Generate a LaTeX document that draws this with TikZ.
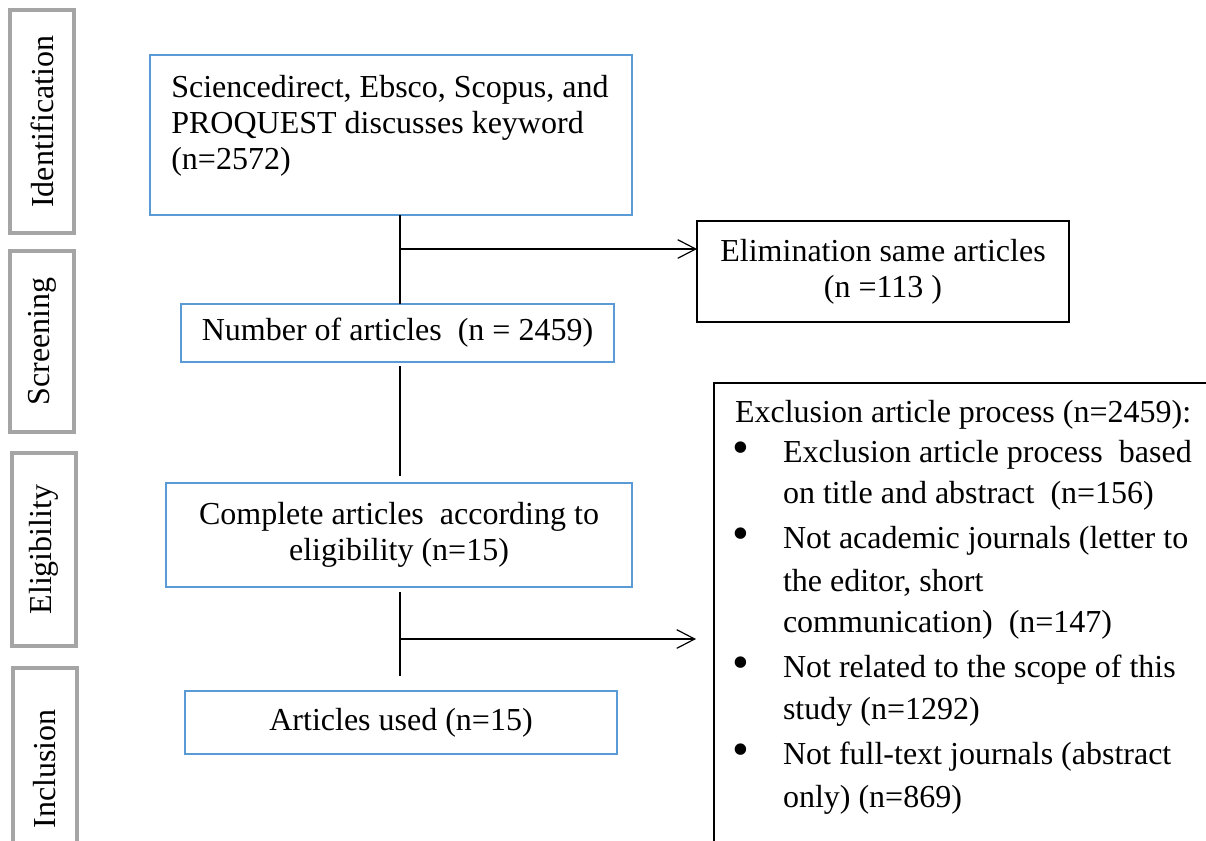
\documentclass[tikz,border=0pt]{standalone}
\usepackage{fontspec}
\setmainfont{Liberation Serif}
\usetikzlibrary{arrows.meta}
\definecolor{wblue}{RGB}{91,155,213}
\definecolor{lgrey}{RGB}{165,165,165}
\begin{document}
\begin{tikzpicture}[x=0.75pt,y=-0.75pt,
  every node/.style={font=\fontsize{24pt}{27pt}\selectfont, inner sep=0pt, outer sep=0pt},
  bluebox/.style={draw=wblue, line width=2.2pt, align=center},
  blackbox/.style={draw=black, line width=0.9pt, align=center},
  sidebox/.style={draw=lgrey, line width=2.4pt, rotate=90, minimum height=48pt},
  flow/.style={draw=black, line width=0.9pt},
  arr/.style={flow, -{Straight Barb[length=13.5pt, width=14pt, line width=0.9pt]}},
  txt/.style={anchor=base west},
  dot/.style={font=\fontsize{36pt}{36pt}\selectfont}
]
\useasboundingbox (0,0) rectangle (1206,840);
\clip (0,0) rectangle (1206,840);
\fill[white] (0,0) rectangle (1206,840);

% phase labels
\node[sidebox, minimum width=167.25pt] (sid) at (42,121.5) {Identification};
\node[sidebox, minimum width=135.75pt] (sscr) at (42,341.5) {Screening};
\node[sidebox, minimum width=144.75pt] (selig) at (44,549.5) {Eligibility};
\node[sidebox, minimum width=151.5pt] (sincl) at (45,769) {Inclusion};

% flow boxes
\node[bluebox, inner xsep=16pt, inner ysep=15pt] (b1) at (391,135)
  {\begin{minipage}[c][90pt][t]{329.5pt}Sciencedirect, Ebsco, Scopus, and\\PROQUEST discusses keyword\\(n=2572)\end{minipage}};
\node[blackbox, minimum width=279pt, minimum height=75.75pt] (elim) at (883,271.5)
  {Elimination same articles\\(n =113 )};
\node[bluebox, minimum width=324.75pt, minimum height=43.5pt] (b2) at (397.5,333)
  {Number of articles\ \ (n = 2459)};
\node[bluebox, minimum width=349.5pt, minimum height=78pt] (b3) at (399,535)
  {Complete articles\ \ according to\\eligibility (n=15)};
\node[bluebox, minimum width=324pt, minimum height=47.25pt] (b4) at (401,722.5)
  {Articles used (n=15)};
\node[blackbox, minimum width=379.5pt, minimum height=357.75pt] (excl) at (967,621.5) {};

% exclusion list
\node[txt] (e0) at (735,422) {Exclusion article process (n=2459):};
\node[dot] (d1) at (741,453) {•};
\node[txt] (e1a) at (783,462) {Exclusion article process\ \ based};
\node[txt] (e1b) at (783,503) {on title and abstract\ \ (n=156)};
\node[dot] (d2) at (741,539) {•};
\node[txt] (e2a) at (783,548) {Not academic journals (letter to};
\node[txt] (e2b) at (783,591) {the editor, short};
\node[txt] (e2c) at (783,632) {communication)\ \ (n=147)};
\node[dot] (d3) at (741,668) {•};
\node[txt] (e3a) at (783,677) {Not related to the scope of this};
\node[txt] (e3b) at (783,719) {study (n=1292)};
\node[dot] (d4) at (741,755) {•};
\node[txt] (e4a) at (783,764) {Not full-text journals (abstract};
\node[txt] (e4b) at (783,807) {only) (n=869)};

% connectors
\coordinate (s1) at (400,249);
\coordinate (s2) at (400,639);
\draw[flow] (b1.south -| s1) -- (b2.north -| s1);
\draw[arr] (s1) -- (s1 -| elim.west);
\draw[flow, shorten <=3pt, shorten >=5pt] (b2.south -| s1) -- (b3.north -| s1);
\draw[flow, shorten <=3.75pt, shorten >=11pt] (b3.south -| s2) -- (b4.north -| s2);
\draw[arr, shorten >=13.5pt] (s2) -- (s2 -| excl.west);
\end{tikzpicture}
\end{document}
